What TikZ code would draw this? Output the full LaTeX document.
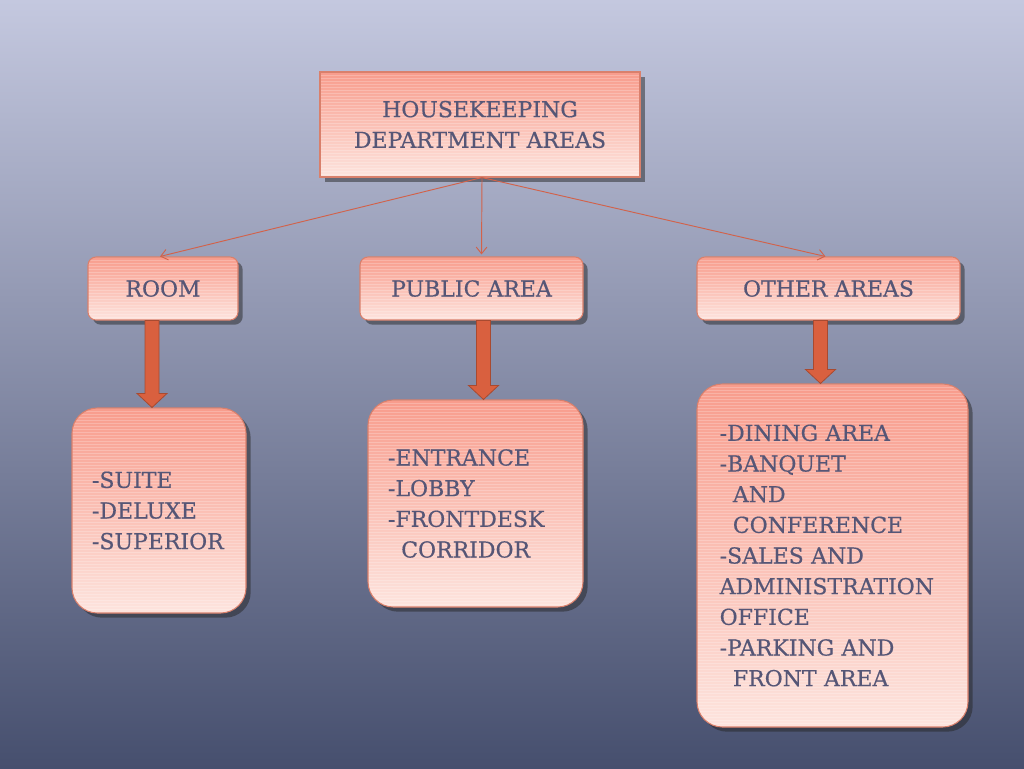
\documentclass[tikz,border=0pt]{standalone}
\usepackage{fontspec}
\setmainfont[FakeBold=0.5]{DejaVu Serif}
\usetikzlibrary{calc,shadows,arrows.meta}
\definecolor{txt}{HTML}{565676}
\definecolor{boxtop}{HTML}{F89C8C}
\definecolor{boxbot}{HTML}{FDE4DE}
\definecolor{boxedge}{HTML}{D9806C}
\definecolor{thin}{HTML}{D2624A}
\definecolor{blk}{HTML}{D9603F}
\definecolor{blkedge}{HTML}{A84A30}
\definecolor{bgtop}{HTML}{C4C8DF}
\definecolor{bgmid}{HTML}{7A83A4}
\definecolor{bgbot}{HTML}{464F6E}
\newcommand\blockarr[2]{%
  \draw[blockarrow] ($(#1)+(-7,0)$) -- ($(#2)+(-7,-14)$) -- ($(#2)+(-15,-14)$) -- (#2)
    -- ($(#2)+(15,-14)$) -- ($(#2)+(7,-14)$) -- ($(#1)+(7,0)$) -- cycle;}
\tikzset{
  box/.style={draw=boxedge, line width=0.8pt, top color=boxtop, bottom color=boxbot,
    text=txt, font=\fontsize{16.5}{23}\selectfont, align=center, inner sep=0pt,
    drop shadow={shadow xshift=3.5pt, shadow yshift=-3.5pt, opacity=0.5, fill=black!85},
    path picture={\foreach \k in {0,3,...,360}
      \draw[white, opacity=0.22, line width=0.35pt]
        ([yshift=-\k*0.75pt]path picture bounding box.north west) --
        ([yshift=-\k*0.75pt]path picture bounding box.north east);}},
  catbox/.style={box, rounded corners=6pt},
  leafbox/.style={box, rounded corners=19pt, align=left, inner xsep=15pt},
  thinarrow/.style={draw=thin, line width=0.7pt, -{Straight Barb[length=5pt,width=8pt]}},
  blockarrow/.style={fill=blk, draw=blkedge, line width=0.6pt, line join=miter}
}
\begin{document}
\begin{tikzpicture}[x=0.75pt, y=-0.75pt]
\useasboundingbox (0,0) rectangle (1024,768);
\shade[top color=bgtop, middle color=bgmid, bottom color=bgbot]
  (0,0) rectangle (1024,768);
\node[box, minimum width=240pt, minimum height=78.75pt] (top) at (480,124.5)
  {HOUSEKEEPING\\DEPARTMENT AREAS};
\node[catbox, minimum width=112.5pt, minimum height=47.25pt] (room) at (163,288.5) {ROOM};
\node[catbox, minimum width=167.25pt, minimum height=47.25pt] (pub) at (471.5,288.5) {PUBLIC AREA};
\node[catbox, minimum width=197.25pt, minimum height=47.25pt] (oth) at (828.5,288.5) {OTHER AREAS};
\node[leafbox, text width=100.5pt, minimum height=153.75pt] (l1) at (159,510.5)
  {-SUITE\\-DELUXE\\-SUPERIOR};
\node[leafbox, text width=131.25pt, minimum height=155.25pt] (l2) at (475.5,503.5)
  {-ENTRANCE\\-LOBBY\\-FRONTDESK\\\hspace*{0.6em}CORRIDOR};
\node[leafbox, inner xsep=17pt, text width=169.25pt, minimum height=257.25pt] (l3) at (832.5,555.5)
  {-DINING AREA\\-BANQUET\\\hspace*{0.6em}AND\\\hspace*{0.6em}CONFERENCE\\-SALES AND\\ADMINISTRATION\\OFFICE\\-PARKING AND\\\hspace*{0.6em}FRONT AREA};
\coordinate (s) at ($(top.south)+(2,0)$);
\draw[thinarrow] (s) -- ($(room.north)+(-3,0)$);
\draw[thinarrow] (s) -- ($(pub.north)+(10,-2)$);
\draw[thinarrow] (s) -- ($(oth.north)+(-3,0)$);
\coordinate (r1) at ($(room.south)+(-11,0)$);
\coordinate (r2) at (r1 |- l1.north);
\coordinate (p1) at ($(pub.south)+(12,0)$);
\coordinate (p2) at (p1 |- l2.north);
\coordinate (o1) at ($(oth.south)+(-8,0)$);
\coordinate (o2) at (o1 |- l3.north);
\blockarr{r1}{r2}
\blockarr{p1}{p2}
\blockarr{o1}{o2}
\end{tikzpicture}
\end{document}
